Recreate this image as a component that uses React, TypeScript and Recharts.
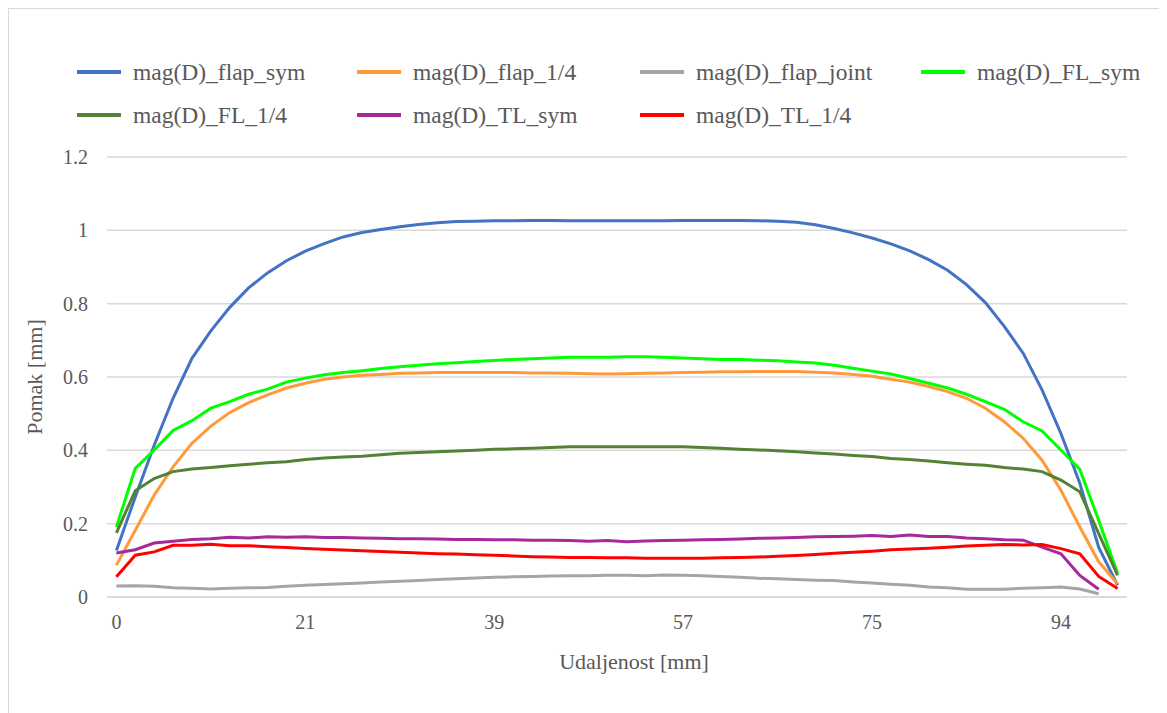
import { LineChart, Line, XAxis, YAxis, CartesianGrid } from 'recharts'

// distance along the section, one label per point (only every 10th is shown)
const xLabels = [
  '0', '2', '4', '7', '9', '11', '13', '15', '17', '19',
  '21', '23', '24', '26', '28', '30', '32', '33', '35', '37',
  '39', '41', '42', '44', '46', '48', '50', '51', '53', '55',
  '57', '59', '60', '62', '64', '66', '68', '69', '71', '73',
  '75', '77', '79', '81', '83', '85', '86', '88', '90', '92',
  '94', '96', '98', '100',
]

const flapSym = [
  0.127, 0.273, 0.414, 0.542, 0.651, 0.726, 0.79, 0.843, 0.884, 0.917,
  0.943, 0.964, 0.982, 0.994, 1.002, 1.01, 1.016, 1.021, 1.024, 1.025,
  1.026, 1.026, 1.027, 1.027, 1.026, 1.026, 1.026, 1.026, 1.026, 1.026,
  1.027, 1.027, 1.027, 1.027, 1.026, 1.025, 1.022, 1.015, 1.005, 0.993,
  0.979, 0.963, 0.944, 0.92, 0.891, 0.852, 0.803, 0.738, 0.665, 0.565,
  0.446, 0.31, 0.135, 0.032,
]

const flapQuarter = [
  0.087, 0.182, 0.278, 0.355, 0.419, 0.466, 0.503, 0.53, 0.551, 0.57,
  0.583, 0.594, 0.6, 0.605, 0.607, 0.61, 0.611, 0.612, 0.612, 0.612,
  0.612, 0.612, 0.611, 0.611, 0.61, 0.609, 0.608, 0.609, 0.61, 0.611,
  0.612, 0.613, 0.614, 0.614, 0.615, 0.615, 0.615, 0.613, 0.611, 0.607,
  0.602, 0.594, 0.586, 0.574, 0.56, 0.542, 0.515, 0.478, 0.433, 0.373,
  0.291, 0.191, 0.096, 0.036,
]

const flapJoint = [
  0.03, 0.031, 0.029, 0.025, 0.024, 0.022, 0.024, 0.025, 0.026, 0.029,
  0.032, 0.034, 0.036, 0.038, 0.041, 0.043, 0.045, 0.048, 0.05, 0.052,
  0.054, 0.055, 0.056, 0.057, 0.058, 0.058, 0.059, 0.059, 0.058, 0.06,
  0.059, 0.058, 0.056, 0.054, 0.051, 0.05, 0.048, 0.046, 0.045, 0.041,
  0.038, 0.035, 0.032, 0.027, 0.025, 0.021, 0.021, 0.021, 0.024, 0.025,
  0.027, 0.022, 0.009, null,
]

const flSym = [
  0.191, 0.351, 0.401, 0.454, 0.481, 0.515, 0.533, 0.553, 0.567, 0.586,
  0.597, 0.606, 0.612, 0.617, 0.623, 0.628, 0.632, 0.636, 0.639, 0.642,
  0.645, 0.648, 0.65, 0.652, 0.654, 0.654, 0.654, 0.655, 0.655, 0.654,
  0.652, 0.65, 0.648, 0.648, 0.646, 0.644, 0.641, 0.638, 0.632, 0.624,
  0.616, 0.608, 0.596, 0.583, 0.57, 0.553, 0.533, 0.512, 0.478, 0.453,
  0.401, 0.348, 0.209, 0.064,
]

const flQuarter = [
  0.175, 0.29, 0.323, 0.342, 0.349, 0.353, 0.358, 0.362, 0.366, 0.369,
  0.375, 0.379, 0.382, 0.384, 0.388, 0.392, 0.394, 0.396, 0.398, 0.4,
  0.403, 0.404, 0.406, 0.408, 0.41, 0.41, 0.41, 0.41, 0.41, 0.41,
  0.41, 0.408, 0.406, 0.403, 0.401, 0.399, 0.396, 0.393, 0.39, 0.386,
  0.383, 0.378, 0.375, 0.371, 0.366, 0.362, 0.359, 0.353, 0.349, 0.342,
  0.319, 0.287, 0.173, 0.059,
]

const tlSym = [
  0.12, 0.129, 0.147, 0.152, 0.157, 0.159, 0.163, 0.161, 0.164, 0.163,
  0.164, 0.162, 0.162, 0.161, 0.16, 0.159, 0.159, 0.158, 0.157, 0.157,
  0.156, 0.156, 0.155, 0.155, 0.154, 0.152, 0.154, 0.151, 0.153, 0.154,
  0.155, 0.156, 0.157, 0.158, 0.16, 0.161, 0.162, 0.164, 0.165, 0.166,
  0.168, 0.165, 0.169, 0.165, 0.165, 0.161, 0.159, 0.156, 0.155, 0.136,
  0.118, 0.059, 0.021, null,
]

const tlQuarter = [
  0.055, 0.114, 0.123, 0.141, 0.141, 0.144, 0.14, 0.14, 0.137, 0.135,
  0.132, 0.13, 0.128, 0.126, 0.124, 0.122, 0.12, 0.118, 0.117, 0.115,
  0.114, 0.112, 0.11, 0.109, 0.108, 0.108, 0.107, 0.107, 0.106, 0.106,
  0.106, 0.106, 0.107, 0.108, 0.109, 0.111, 0.113, 0.116, 0.119, 0.122,
  0.125, 0.129, 0.131, 0.133, 0.136, 0.139, 0.141, 0.143, 0.142, 0.143,
  0.132, 0.118, 0.056, 0.023,
]

const yTicks = [0, 0.2, 0.4, 0.6, 0.8, 1, 1.2]

const series = [
  { key: 'flapSym', name: 'mag(D)_flap_sym', color: '#4472C4', values: flapSym },
  { key: 'flapQuarter', name: 'mag(D)_flap_1/4', color: '#FF9A3C', values: flapQuarter },
  { key: 'flapJoint', name: 'mag(D)_flap_joint', color: '#A5A5A5', values: flapJoint },
  { key: 'flSym', name: 'mag(D)_FL_sym', color: '#00FF00', values: flSym },
  { key: 'flQuarter', name: 'mag(D)_FL_1/4', color: '#548235', values: flQuarter },
  { key: 'tlSym', name: 'mag(D)_TL_sym', color: '#A5299B', values: tlSym },
  { key: 'tlQuarter', name: 'mag(D)_TL_1/4', color: '#FF0000', values: tlQuarter },
]

const data = xLabels.map((x, i) => {
  const row: Record<string, string | number | null> = { x }
  series.forEach((s) => {
    row[s.key] = s.values[i] ?? null
  })
  return row
})

const FONT = '"Liberation Serif", Tinos, "Times New Roman", "DejaVu Serif", serif'
const TEXT = '#595959'
const GRID = '#D9D9D9'

// legend: 4 columns, 2 rows like the excel one
const legendCols = [68, 348, 631, 912]
const legendRows = [63, 106]

function ChartLegend() {
  return (
    <>
      {series.map((s, i) => (
        <div
          key={s.key}
          style={{
            position: 'absolute',
            left: legendCols[i % 4],
            top: legendRows[Math.floor(i / 4)],
            transform: 'translateY(-50%)',
            display: 'flex',
            alignItems: 'center',
            fontFamily: FONT,
            fontSize: 23.5,
            lineHeight: '26px',
            color: TEXT,
            whiteSpace: 'nowrap',
          }}
        >
          <span
            style={{
              display: 'inline-block',
              width: 44,
              height: 4,
              background: s.color,
              marginRight: 12,
            }}
          />
          {s.name}
        </div>
      ))}
    </>
  )
}

// excel centres the axis title on the chart area, a bit right of the plot centre
function XTitle(props: any) {
  const vb = props.viewBox
  return (
    <text
      x={vb.x + vb.width / 2 + 17}
      y={vb.y + vb.height - 8}
      textAnchor="middle"
      fill={TEXT}
      fontSize={22}
      fontFamily={FONT}
    >
      Udaljenost [mm]
    </text>
  )
}

export default function App() {
  return (
    <div
      style={{
        position: 'relative',
        width: 1170,
        height: 710,
        borderLeft: `1px solid ${GRID}`,
        borderTop: `1px solid ${GRID}`,
        background: '#fff',
        fontFamily: FONT,
      }}
    >
      <LineChart
        width={1158}
        height={700}
        data={data}
        margin={{ top: 148, right: 40, bottom: 32, left: 0 }}
        style={{ fontFamily: FONT }}
      >
        <CartesianGrid stroke={GRID} strokeWidth={1.5} vertical={false} />
        <XAxis
          dataKey="x"
          type="category"
          interval={9}
          padding={{ left: 9.4, right: 9.4 }}
          height={80}
          axisLine={{ stroke: GRID, strokeWidth: 1.5 }}
          tickLine={false}
          tickSize={0}
          tickMargin={18}
          tick={{ fill: TEXT, fontSize: 20, fontFamily: FONT }}
          label={XTitle}
        />
        <YAxis
          width={98}
          domain={[0, 1.2]}
          ticks={yTicks}
          axisLine={false}
          tickLine={false}
          tickSize={0}
          tickMargin={19}
          tick={{ fill: TEXT, fontSize: 20, fontFamily: FONT }}
          label={{
            value: 'Pomak [mm]',
            angle: -90,
            position: 'insideLeft',
            offset: 25,
            style: { fill: TEXT, fontSize: 22, fontFamily: FONT, textAnchor: 'middle' },
          }}
        />
        {series.map((s) => (
          <Line
            key={s.key}
            type="linear"
            dataKey={s.key}
            name={s.name}
            stroke={s.color}
            strokeWidth={3}
            dot={false}
            activeDot={false}
            isAnimationActive={false}
          />
        ))}
      </LineChart>
      <ChartLegend />
    </div>
  )
}
